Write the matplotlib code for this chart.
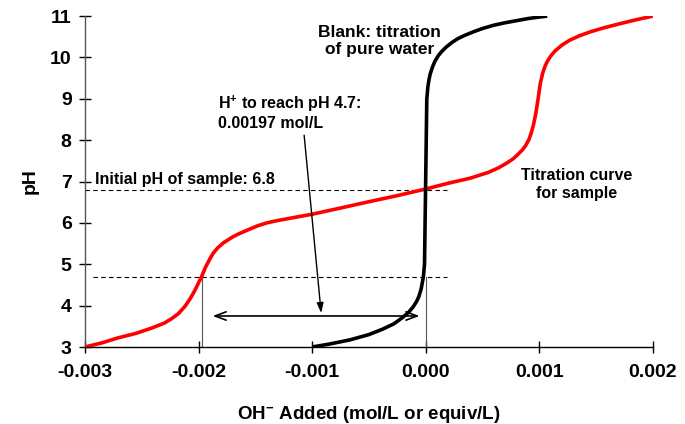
import matplotlib
matplotlib.use("Agg")
import matplotlib.pyplot as plt
from matplotlib.ticker import FixedLocator

plt.rcParams['font.family'] = ['Liberation Sans', 'DejaVu Sans']
plt.rcParams['font.weight'] = 'bold'
plt.rcParams['axes.unicode_minus'] = False
plt.rcParams['mathtext.fontset'] = 'custom'
plt.rcParams['mathtext.rm'] = 'Liberation Sans:bold'
plt.rcParams['mathtext.bf'] = 'Liberation Sans:bold'
plt.rcParams['mathtext.default'] = 'rm'

# ---- data ----
sample_x = [-0.00300, -0.00285, -0.00271, -0.00255, -0.00241, -0.00230, -0.00224,
            -0.00218, -0.00212, -0.00208, -0.00205, -0.00203, -0.00200, -0.00197,
            -0.00194, -0.00190, -0.00187, -0.00183, -0.00178, -0.00170, -0.00165,
            -0.00160, -0.00155, -0.00148, -0.00140, -0.00130, -0.00120, -0.00100,
            -0.00075, -0.00052, -0.00025, 0.00000, 0.00020, 0.00039, 0.00055,
            0.00064, 0.00071, 0.00077, 0.00081, 0.00085, 0.00088, 0.00091,
            0.00093, 0.00095, 0.00097, 0.00099, 0.00101, 0.00103, 0.00105,
            0.00107, 0.00110, 0.00114, 0.00120, 0.00127, 0.00135, 0.00145,
            0.00156, 0.00170, 0.00185, 0.00200]
sample_ph = [3.00, 3.10, 3.22, 3.33, 3.46, 3.58, 3.68,
             3.80, 3.98, 4.14, 4.28, 4.38, 4.55, 4.72,
             4.92, 5.13, 5.27, 5.40, 5.52, 5.66, 5.73,
             5.79, 5.85, 5.93, 6.00, 6.06, 6.11, 6.21,
             6.36, 6.50, 6.66, 6.82, 6.96, 7.08, 7.22,
             7.33, 7.44, 7.55, 7.65, 7.76, 7.87, 8.02,
             8.18, 8.38, 8.65, 9.00, 9.38, 9.62, 9.78,
             9.90, 10.03, 10.16, 10.30, 10.42, 10.52, 10.62,
             10.71, 10.81, 10.91, 11.00]

blank_x = [-0.00100, -0.00085, -0.00067, -0.00050, -0.00038, -0.00028, -0.00020,
           -0.00015, -0.00011, -0.00008, -0.00006, -0.00004, -0.00003, -0.00002,
           -0.00001, 0.00000, 0.00001, 0.00002, 0.00003, 0.00004, 0.00006,
           0.00008, 0.00011, 0.00014, 0.00018, 0.00023, 0.00028, 0.00034,
           0.00042, 0.00050, 0.00060, 0.00070, 0.00080, 0.00090, 0.00098,
           0.00107]
blank_ph = [3.00, 3.07, 3.17, 3.30, 3.43, 3.56, 3.72,
            3.84, 3.97, 4.10, 4.22, 4.40, 4.55, 4.70,
            5.00, 7.00, 9.00, 9.30, 9.47, 9.60, 9.77,
            9.90, 10.04, 10.14, 10.25, 10.36, 10.45, 10.53,
            10.62, 10.70, 10.78, 10.84, 10.89, 10.94, 10.97,
            11.00]

x_ticks = [-0.003, -0.002, -0.001, 0.000, 0.001, 0.002]
x_tick_labels = ['-0.003', '-0.002', '-0.001', '0.000', '0.001', '0.002']
y_ticks = [3, 4, 5, 6, 7, 8, 9, 10, 11]

initial_ph = 6.8
target_ph = 4.7
h_needed = -0.00197

# ---- figure ----
fig = plt.figure(figsize=(6.85, 4.24), dpi=100)
ax = fig.add_axes([0.124, 0.1816, 0.829, 0.7804])

ax.plot(sample_x, sample_ph, color='#ff0000', lw=2.6, solid_capstyle='butt',
        solid_joinstyle='round', zorder=3)
ax.plot(blank_x, blank_ph, color='black', lw=2.6, solid_capstyle='butt',
        solid_joinstyle='round', zorder=3)

# reference lines
ax.plot([-0.003, 0.00019], [initial_ph, initial_ph], ls=(0, (4, 3)), color='black', lw=0.8, zorder=2)
ax.plot([-0.00293, 0.00019], [target_ph, target_ph], ls=(0, (4, 3)), color='black', lw=0.8, zorder=2)
ax.plot([h_needed, h_needed], [3, target_ph], color='#555555', lw=0.8, zorder=2)
ax.plot([0, 0], [3, target_ph], color='#555555', lw=0.8, zorder=2)

# double arrow
ax.annotate('', xy=(-0.00003, 3.75), xytext=(-0.0019, 3.75),
            arrowprops=dict(arrowstyle='<->,head_length=0.8,head_width=0.3', color='black', lw=1.2),
            zorder=4)
# pointer arrow
ax.annotate('', xy=(-0.00092, 3.82), xytext=(-0.00107, 8.12),
            arrowprops=dict(arrowstyle='-|>,head_length=0.6,head_width=0.2', color='black', lw=1.0,
                            shrinkA=0, shrinkB=0),
            zorder=4)

# texts
ax.text(-0.000405, 10.40, 'Blank: titration\nof pure water', ha='center', va='center',
        fontsize=12.5, fontweight='bold', linespacing=1.1)
ax.text(-0.00183, 8.68, 'H$^{+}$ to reach pH 4.7:\n0.00197 mol/L', ha='left', va='center',
        fontsize=11.5, fontweight='bold', linespacing=1.2)
ax.text(-0.00291, 7.04, 'Initial pH of sample: 6.8', ha='left', va='center',
        fontsize=11.5, fontweight='bold')
ax.text(0.00133, 6.94, 'Titration curve\nfor sample', ha='center', va='center',
        fontsize=11.5, fontweight='bold', linespacing=1.25)

# axes styling
ax.set_xlim(-0.003, 0.002)
ax.set_ylim(3, 11)
ax.xaxis.set_major_locator(FixedLocator(x_ticks))
ax.set_xticklabels(x_tick_labels)
ax.yaxis.set_major_locator(FixedLocator(y_ticks))
ax.set_yticklabels([str(v) for v in y_ticks])
for lab in ax.get_xticklabels() + ax.get_yticklabels():
    lab.set_fontweight('bold')
    lab.set_fontsize(14)
ax.tick_params(axis='both', direction='inout', length=9, width=1.0, color='black')
ax.tick_params(axis='x', pad=8)
ax.tick_params(axis='y', pad=5)

ax.spines['top'].set_visible(False)
ax.spines['right'].set_visible(False)
ax.spines['left'].set_color('#555555')
ax.spines['bottom'].set_color('black')
ax.spines['left'].set_linewidth(1.0)
ax.spines['bottom'].set_linewidth(1.0)

ax.set_xlabel('OH$^{-}$ Added (mol/L or equiv/L)', fontsize=13.5, fontweight='bold', labelpad=16)
ax.set_ylabel('pH', fontsize=14, fontweight='bold', labelpad=8)

fig.savefig('out.png', dpi=100)
